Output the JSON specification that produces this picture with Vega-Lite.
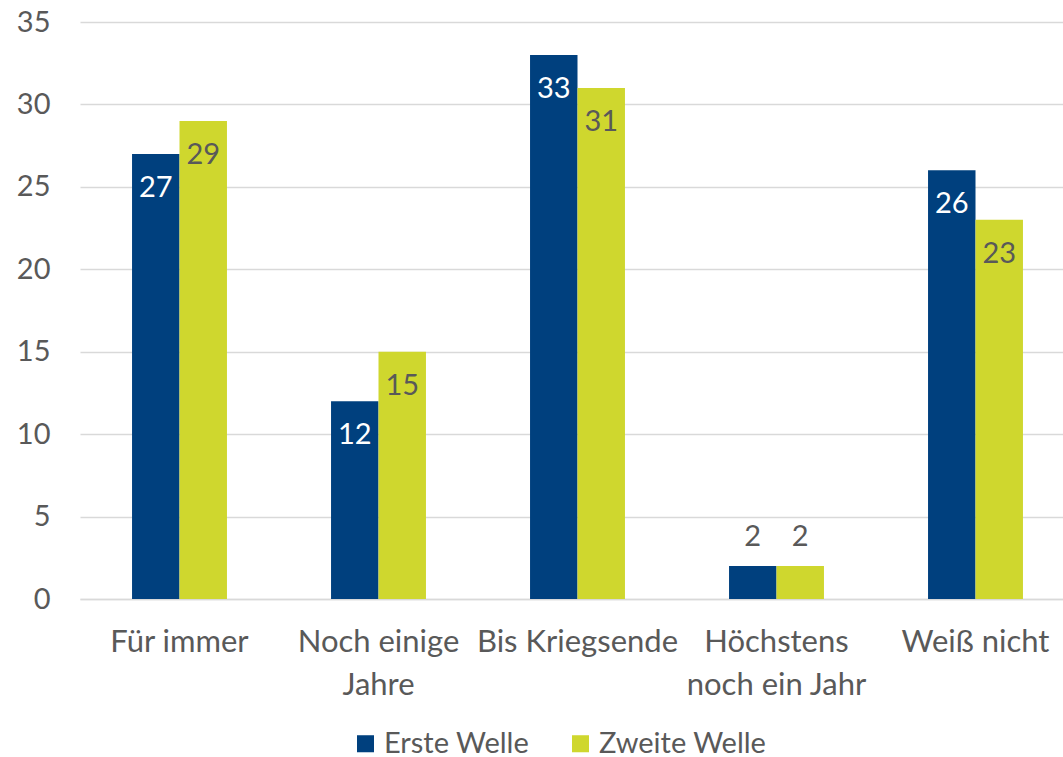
{
  "$schema": "https://vega.github.io/schema/vega-lite/v6.json",
  "width": 995,
  "height": 577,
  "autosize": {"type": "none"},
  "padding": {"left": 80, "top": 22, "right": 0, "bottom": 158},
  "config": {
    "font": "Lato",
    "view": {"stroke": null},
    "axis": {"labelFont": "Lato", "labelColor": "#595959", "labelFontSize": 29}
  },
  "data": {
    "values": [
      {"kategorie": "Für immer", "welle": "Erste Welle", "wert": 27},
      {"kategorie": "Für immer", "welle": "Zweite Welle", "wert": 29},
      {"kategorie": "Noch einige Jahre", "welle": "Erste Welle", "wert": 12},
      {"kategorie": "Noch einige Jahre", "welle": "Zweite Welle", "wert": 15},
      {"kategorie": "Bis Kriegsende", "welle": "Erste Welle", "wert": 33},
      {"kategorie": "Bis Kriegsende", "welle": "Zweite Welle", "wert": 31},
      {"kategorie": "Höchstens noch ein Jahr", "welle": "Erste Welle", "wert": 2},
      {"kategorie": "Höchstens noch ein Jahr", "welle": "Zweite Welle", "wert": 2},
      {"kategorie": "Weiß nicht", "welle": "Erste Welle", "wert": 26},
      {"kategorie": "Weiß nicht", "welle": "Zweite Welle", "wert": 23}
    ]
  },
  "encoding": {
    "x": {
      "field": "kategorie",
      "type": "nominal",
      "sort": null,
      "scale": {"paddingInner": 0.523, "paddingOuter": 0.2615},
      "axis": {
        "title": null,
        "labelAngle": 0,
        "ticks": false,
        "domain": true,
        "domainColor": "#d9d9d9",
        "domainWidth": 1.5,
        "labelPadding": 28,
        "labelBaseline": "top",
        "labelLineHeight": 43,
        "labelFontSize": 31,
        "labelLimit": 400,
        "labelExpr": "datum.label == 'Noch einige Jahre' ? ['Noch einige', 'Jahre'] : datum.label == 'Höchstens noch ein Jahr' ? ['Höchstens', 'noch ein Jahr'] : datum.label"
      }
    },
    "xOffset": {"field": "welle", "type": "nominal", "sort": ["Erste Welle", "Zweite Welle"]},
    "y": {
      "field": "wert",
      "type": "quantitative",
      "scale": {"domain": [0, 35]},
      "axis": {
        "title": null,
        "values": [0, 5, 10, 15, 20, 25, 30, 35],
        "ticks": false,
        "domain": false,
        "gridColor": "#d9d9d9",
        "gridWidth": 1.5,
        "labelPadding": 30
      }
    }
  },
  "layer": [
    {
      "mark": {"type": "bar"},
      "encoding": {
        "color": {
          "field": "welle",
          "type": "nominal",
          "sort": ["Erste Welle", "Zweite Welle"],
          "scale": {"domain": ["Erste Welle", "Zweite Welle"], "range": ["#00407e", "#cfd72e"]},
          "legend": {
            "title": null,
            "orient": "none",
            "legendX": 271,
            "legendY": 707,
            "direction": "horizontal",
            "symbolType": "square",
            "symbolSize": 290,
            "symbolStrokeWidth": 0,
            "labelFontSize": 29,
            "labelColor": "#595959",
            "labelFont": "Lato",
            "labelLimit": 400,
            "labelOffset": 4,
            "columnPadding": 36
          }
        }
      }
    },
    {
      "transform": [{"filter": "datum.wert >= 5"}],
      "mark": {"type": "text", "baseline": "top", "dy": 20, "fontSize": 29, "font": "Lato"},
      "encoding": {
        "text": {"field": "wert", "type": "quantitative"},
        "color": {
          "condition": {"test": "datum.welle == 'Erste Welle'", "value": "#ffffff"},
          "value": "#595959"
        }
      }
    },
    {
      "transform": [{"filter": "datum.wert < 5"}],
      "mark": {"type": "text", "baseline": "bottom", "dy": -14, "fontSize": 29, "font": "Lato", "color": "#595959"},
      "encoding": {
        "text": {"field": "wert", "type": "quantitative"}
      }
    }
  ]
}
